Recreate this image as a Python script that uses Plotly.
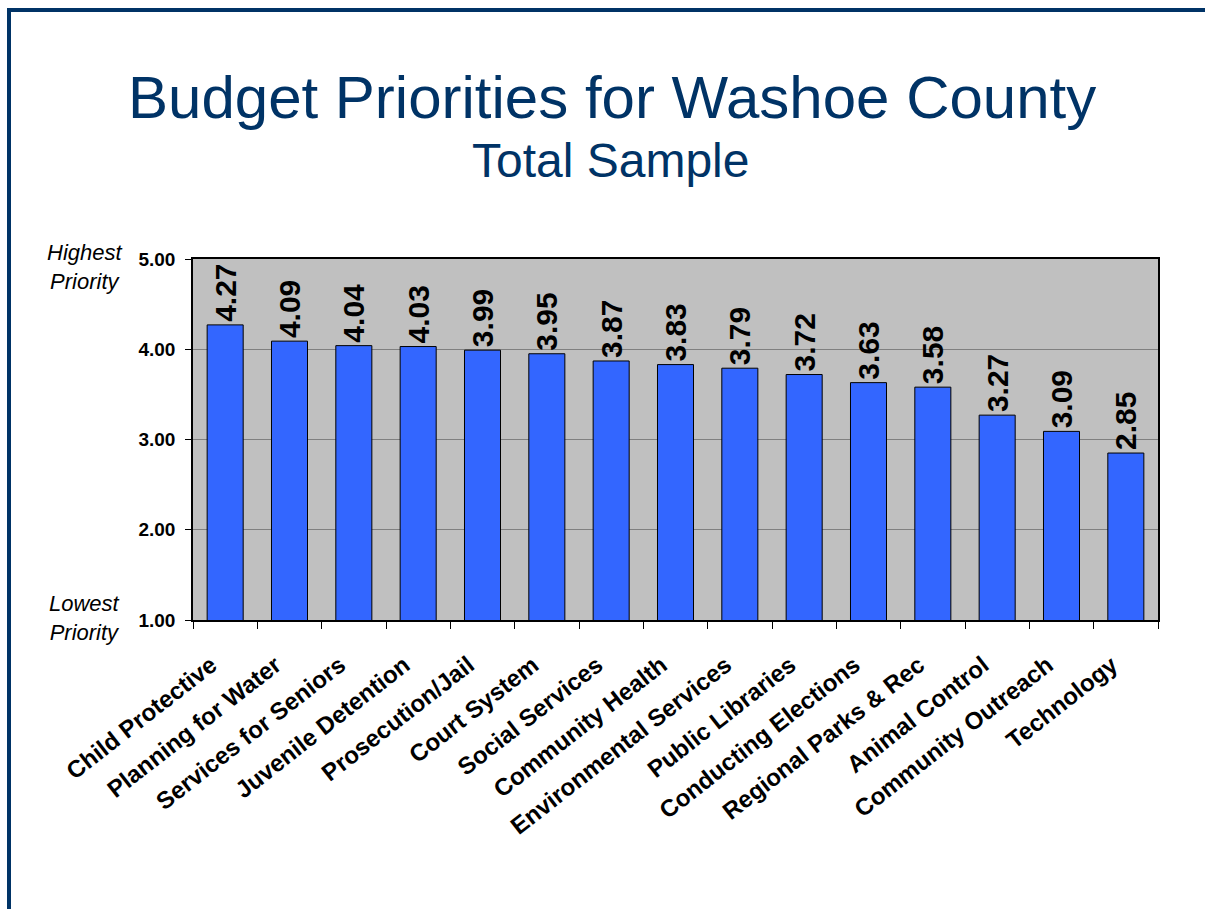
import plotly.graph_objects as go

categories = ["Child Protective", "Planning for Water", "Services for Seniors",
              "Juvenile Detention", "Prosecution/Jail", "Court System",
              "Social Services", "Community Health", "Environmental Services",
              "Public Libraries", "Conducting Elections", "Regional Parks & Rec",
              "Animal Control", "Community Outreach", "Technology"]
scores = [4.27, 4.09, 4.04, 4.03, 3.99, 3.95, 3.87, 3.83, 3.79, 3.72, 3.63, 3.58, 3.27, 3.09, 2.85]
y_ticks = [1, 2, 3, 4, 5]
y_tick_labels = ["1.00", "2.00", "3.00", "4.00", "5.00"]

FONT = "Arial, Liberation Sans, sans-serif"
NAVY = "#003366"

# plot area in pixels
L, R, T, B = 193, 1158, 259, 620
W, H = 1205, 909
pw, ph = R - L, B - T

def px_x(px):
    return (px - L) / pw

def px_y(py):
    return (B - py) / ph

fig = go.Figure()
fig.add_trace(go.Bar(
    x=categories, y=scores,
    marker=dict(color="#3366FF", line=dict(color="black", width=1)),
    text=[f"{v:.2f}" for v in scores],
    textposition="outside",
    textangle=-90,
    constraintext="none",
    cliponaxis=False,
    textfont=dict(family=FONT, size=30, color="black", weight="bold"),
    hoverinfo="skip",
))

fig.update_layout(
    width=W, height=H,
    margin=dict(l=L, r=W - R, t=T, b=H - B, pad=0),
    paper_bgcolor="white",
    plot_bgcolor="#C0C0C0",
    bargap=0.44,
    showlegend=False,
    font=dict(family=FONT, color="black"),
    xaxis=dict(
        type="category",
        tickangle=-38,
        tickfont=dict(family=FONT, size=24, color="black", weight="bold"),
        ticks="outside", ticklen=7, tickcolor="black", tickwidth=1,
        tickson="boundaries",
        ticklabelstandoff=20,
        ticklabelshift=-14,
        showline=True, linecolor="black", linewidth=1.5, mirror=True,
        showgrid=False,
    ),
    yaxis=dict(
        range=[1, 5],
        tickvals=y_ticks, ticktext=y_tick_labels,
        tickfont=dict(family=FONT, size=19, color="black", weight="bold"),
        ticks="outside", ticklen=6, tickcolor="black", tickwidth=1,
        ticklabelstandoff=6,
        showline=True, linecolor="black", linewidth=1.5, mirror=True,
        showgrid=True, gridcolor="#808080", gridwidth=1,
        zeroline=False,
    ),
    annotations=[
        dict(text="Budget Priorities for Washoe County", xref="paper", yref="paper",
             x=px_x(612), y=px_y(97), xanchor="center", yanchor="middle", showarrow=False,
             font=dict(family=FONT, size=60, color=NAVY)),
        dict(text="Total Sample", xref="paper", yref="paper",
             x=px_x(610), y=px_y(161), xanchor="center", yanchor="middle", showarrow=False,
             font=dict(family=FONT, size=48, color=NAVY)),
        dict(text="<i>Highest<br>Priority</i>", xref="paper", yref="paper",
             x=px_x(84), y=px_y(267), xanchor="center", yanchor="middle", showarrow=False,
             align="center", font=dict(family=FONT, size=22, color="black")),
        dict(text="<i>Lowest<br>Priority</i>", xref="paper", yref="paper",
             x=px_x(84), y=px_y(618), xanchor="center", yanchor="middle", showarrow=False,
             align="center", font=dict(family=FONT, size=22, color="black")),
    ],
    shapes=[
        dict(type="line", xref="paper", yref="paper",
             x0=px_x(7), x1=px_x(W + 5), y0=px_y(10), y1=px_y(10),
             line=dict(color=NAVY, width=4)),
        dict(type="line", xref="paper", yref="paper",
             x0=px_x(9), x1=px_x(9), y0=px_y(8), y1=px_y(H + 5),
             line=dict(color=NAVY, width=4)),
    ],
)

fig.write_html("out.html")
